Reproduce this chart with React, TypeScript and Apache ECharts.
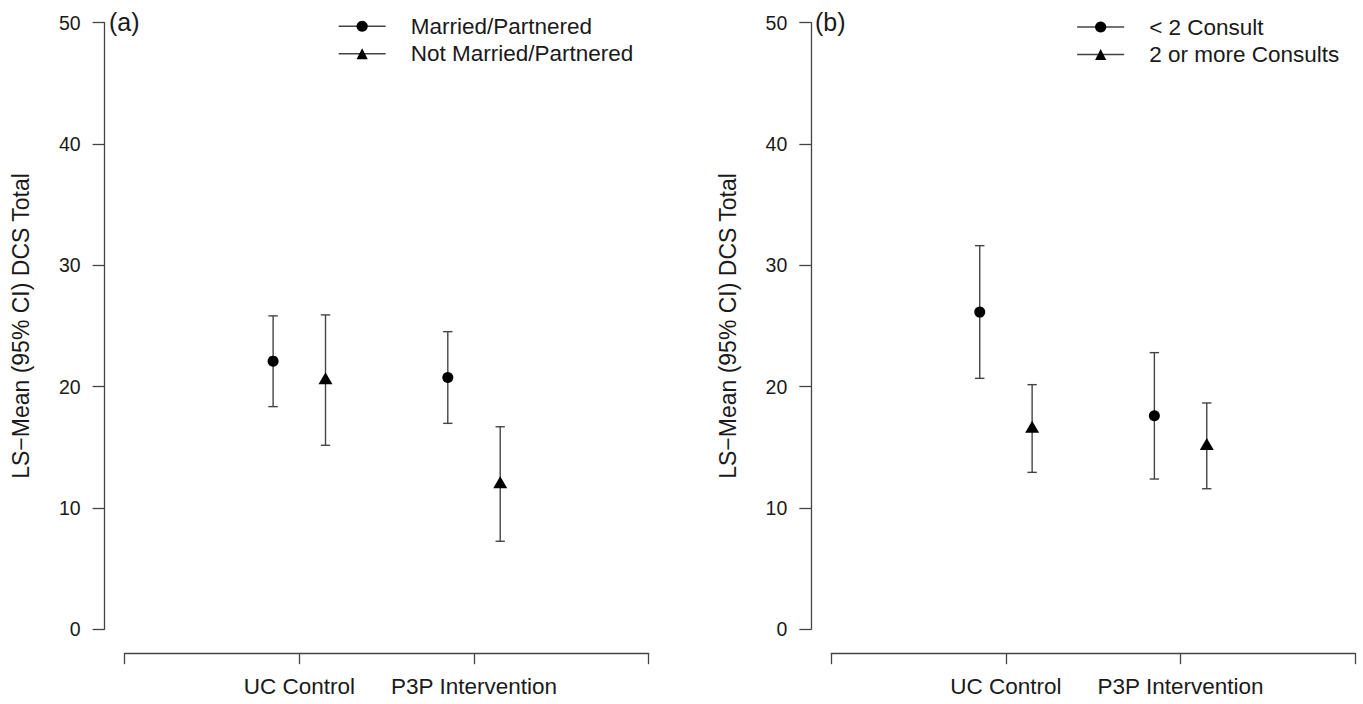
import React, { useEffect, useRef } from "react";
import * as echarts from "echarts";

// ---- data ----
const groups = ["UC Control", "P3P Intervention"];
const xTickLabels = ["", "UC Control", "P3P Intervention", ""];
const yTicks = [0, 10, 20, 30, 40, 50];
const panelTags = ["(a)", "(b)"];
const yAxisTitle = "LS\u2212Mean (95% CI) DCS Total";

// panel (a)
const aNames = ["Married/Partnered", "Not Married/Partnered"];
const marriedMean = [22.1, 20.75];
const marriedLow = [18.35, 16.97];
const marriedHigh = [25.83, 24.53];
const notMarriedMean = [20.53, 11.95];
const notMarriedLow = [15.16, 7.25];
const notMarriedHigh = [25.91, 16.69];

// panel (b)
const bNames = ["< 2 Consult", "2 or more Consults"];
const lt2Mean = [26.14, 17.59];
const lt2Low = [20.68, 12.38];
const lt2High = [31.62, 22.8];
const ge2Mean = [16.53, 15.1];
const ge2Low = [12.93, 11.58];
const ge2High = [20.16, 18.65];

const FONT = "'Liberation Sans', Arial, Helvetica, sans-serif";
const LINE = "#444";
const TEXT = "#1a1a1a";
const DODGE = 0.15;

function buildOption() {
  const grids = [
    { left: 124.6, right: 1363 - 648.7, top: 22.7, bottom: 704 - 629.2 },
    { left: 831.3, right: 1363 - 1355.2, top: 22.7, bottom: 704 - 629.2 },
  ];
  const xAxes = grids.map((_, i) => ({
    type: "value",
    gridIndex: i,
    min: 0,
    max: 3,
    interval: 1,
    offset: 24,
    axisLine: { show: true, onZero: false, lineStyle: { color: LINE, width: 1.3 } },
    axisTick: { show: true, length: 11, lineStyle: { color: LINE, width: 1.3 } },
    splitLine: { show: false },
    axisLabel: {
      fontSize: 22.5,
      fontFamily: FONT,
      color: TEXT,
      margin: 22,
      formatter: (v: number) => xTickLabels[Math.round(v)] ?? "",
    },
  }));
  const yAxes = grids.map((_, i) => ({
    type: "value",
    gridIndex: i,
    min: yTicks[0],
    max: yTicks[yTicks.length - 1],
    interval: 10,
    offset: 20,
    name: yAxisTitle,
    nameLocation: "middle",
    nameGap: 72,
    nameTextStyle: { fontSize: 23, fontFamily: FONT, color: TEXT },
    axisLine: { show: true, onZero: false, lineStyle: { color: LINE, width: 1.3 } },
    axisTick: { show: true, length: 12, lineStyle: { color: LINE, width: 1.3 } },
    splitLine: { show: false },
    axisLabel: { fontSize: 19.5, fontFamily: FONT, color: TEXT, margin: 24 },
  }));

  const panels = [
    {
      names: aNames,
      means: [marriedMean, notMarriedMean],
      lows: [marriedLow, notMarriedLow],
      highs: [marriedHigh, notMarriedHigh],
    },
    {
      names: bNames,
      means: [lt2Mean, ge2Mean],
      lows: [lt2Low, ge2Low],
      highs: [lt2High, ge2High],
    },
  ];

  const series: any[] = [];
  panels.forEach((p, pi) => {
    p.names.forEach((name, si) => {
      const off = si === 0 ? -DODGE : DODGE;
      const ebData = groups.map((_, gi) => [gi + 1 + off, p.lows[si][gi], p.highs[si][gi]]);
      series.push({
        type: "custom",
        xAxisIndex: pi,
        yAxisIndex: pi,
        z: 1,
        silent: true,
        data: ebData,
        renderItem: (params: any, api: any) => {
          const x = api.value(0);
          const lo = api.coord([x, api.value(1)]);
          const hi = api.coord([x, api.value(2)]);
          const hw = 4.7;
          const style = { stroke: LINE, lineWidth: 1.4 };
          return {
            type: "group",
            children: [
              { type: "line", shape: { x1: lo[0], y1: lo[1], x2: hi[0], y2: hi[1] }, style },
              { type: "line", shape: { x1: lo[0] - hw, y1: lo[1], x2: lo[0] + hw, y2: lo[1] }, style },
              { type: "line", shape: { x1: hi[0] - hw, y1: hi[1], x2: hi[0] + hw, y2: hi[1] }, style },
            ],
          };
        },
      });
      const isTri = si === 1;
      series.push({
        type: "line",
        name,
        xAxisIndex: pi,
        yAxisIndex: pi,
        z: 3,
        data: groups.map((_, gi) => [gi + 1 + off, p.means[si][gi]]),
        symbol: isTri ? "triangle" : "circle",
        symbolSize: isTri ? [14, 12] : 11,
        symbolOffset: isTri ? [0, -2] : [0, 0],
        lineStyle: { opacity: 0, width: 0 },
        itemStyle: { color: "#000" },
        showSymbol: true,
      });
    });
  });

  const legendCommon = {
    orient: "vertical",
    padding: 0,
    itemWidth: 47,
    itemHeight: 14,
    itemGap: 4.5,
    selectedMode: false,
    lineStyle: { color: LINE, width: 1.3, opacity: 1, type: "solid" },
    textStyle: { fontSize: 22.5, fontFamily: FONT, color: TEXT, padding: [0, 0, 0, 20] },
  };

  return {
    animation: false,
    backgroundColor: "#fff",
    grid: grids,
    xAxis: xAxes,
    yAxis: yAxes,
    legend: [
      { ...legendCommon, left: 338, top: 14.75, data: aNames.map((n) => ({ name: n })) },
      { ...legendCommon, left: 1076.5, top: 15.5, data: bNames.map((n) => ({ name: n })) },
    ],
    graphic: [
      {
        type: "text",
        left: 109,
        top: 9,
        style: { text: panelTags[0], fontSize: 25, fontFamily: FONT, fill: TEXT },
      },
      {
        type: "text",
        left: 815,
        top: 9,
        style: { text: panelTags[1], fontSize: 25, fontFamily: FONT, fill: TEXT },
      },
    ],
    series,
  };
}

export default function App() {
  const ref = useRef<HTMLDivElement>(null);
  useEffect(() => {
    if (!ref.current) return;
    const chart = echarts.init(ref.current, undefined, { renderer: "svg" });
    chart.setOption(buildOption() as any);
    return () => chart.dispose();
  }, []);
  return (
    <div
      ref={ref}
      style={{ position: "fixed", left: 0, top: 0, width: 1363, height: 704, background: "#fff" }}
    />
  );
}
